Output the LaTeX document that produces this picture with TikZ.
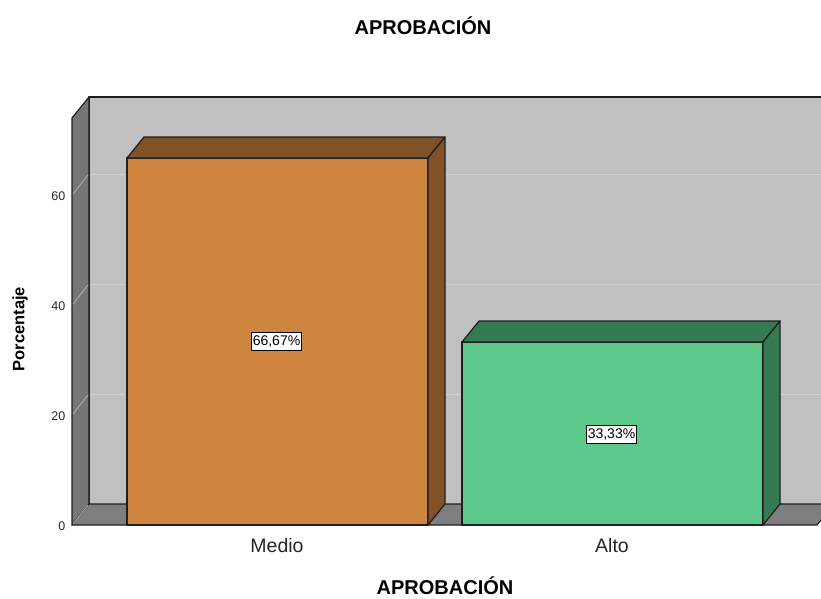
\documentclass[tikz,border=0pt]{standalone}
\usepackage{fontspec}
\setmainfont{Liberation Sans}
\definecolor{wallback}{HTML}{C0C0C0}
\definecolor{wallside}{HTML}{767676}
\definecolor{floorc}{HTML}{7E7E7E}
\definecolor{gridc}{HTML}{D0D0D0}
\definecolor{sidegrid}{HTML}{A8A8A8}
\definecolor{medfront}{HTML}{CD853F}
\definecolor{meddark}{HTML}{7F5228}
\definecolor{altfront}{HTML}{5CC98A}
\definecolor{altdark}{HTML}{367A53}
\definecolor{edgec}{HTML}{1E1E1E}
\tikzset{
  edge/.style={draw=edgec, line width=1.2pt, line join=round},
  gridline/.style={draw=gridc, line width=1pt},
  sgrid/.style={draw=sidegrid, line width=1pt},
  ticklab/.style={anchor=east, inner sep=0pt, font=\fontsize{12.5}{14}\selectfont, text=black!85},
  catlab/.style={inner sep=0pt, font=\fontsize{19.5}{22}\selectfont, text=black!85},
  titlelab/.style={inner sep=0pt, font=\bfseries\fontsize{20}{22}\selectfont},
  vallab/.style={draw=black, fill=white, line width=0.8pt, inner xsep=1.5pt, inner ysep=3pt, font=\fontsize{14}{15}\selectfont}
}
\begin{document}
\begin{tikzpicture}[x=1pt,y=-1pt]
\useasboundingbox (0,0) rectangle (821,598);
\begin{scope}
\clip (0,0) rectangle (821,598);
% back wall
\fill[wallback] (89,97) rectangle (830,504);
% back gridlines
\foreach \v in {20,40,60} {
  \draw[gridline] (89,{525-5.5*\v-21}) -- (830,{525-5.5*\v-21});
}
\draw[edge] (830,97) -- (89,97) -- (89,504);
% side wall
\filldraw[fill=wallside, edge] (72,118) -- (89,97) -- (89,504) -- (72,525) -- cycle;
\foreach \v in {20,40,60} {
  \draw[sgrid] (73,{525-5.5*\v-1}) -- (88,{525-5.5*\v-20});
}
% floor
\filldraw[fill=floorc, edge] (72,525) -- (89,504) -- (834,504) -- (817,525) -- cycle;
\draw[sgrid] (73,524) -- (88,505);
\end{scope}
% bar Medio
\filldraw[fill=medfront, edge] (127,158) rectangle (428,525);
\filldraw[fill=meddark, edge] (127,158) -- (144,137) -- (445,137) -- (428,158) -- cycle;
\filldraw[fill=meddark, edge] (428,158) -- (445,137) -- (445,504) -- (428,525) -- cycle;
% bar Alto
\filldraw[fill=altfront, edge] (462,342) rectangle (763,525);
\filldraw[fill=altdark, edge] (462,342) -- (479,321) -- (780,321) -- (763,342) -- cycle;
\filldraw[fill=altdark, edge] (763,342) -- (780,321) -- (780,504) -- (763,525) -- cycle;
% value labels
\node[vallab] (vmed) at (276.5,341.5) {66,67\%};
\node[vallab] (valt) at (611.5,434.5) {33,33\%};
% tick labels
\node[ticklab] (t0) at (65.5,526) {0};
\node[ticklab] (t20) at (65.5,416) {20};
\node[ticklab] (t40) at (65.5,306) {40};
\node[ticklab] (t60) at (65.5,196) {60};
% category labels
\node[catlab] (cmed) at (277,546) {Medio};
\node[catlab] (calt) at (612,546) {Alto};
% titles
\node[titlelab] (title) at (423,26) {APROBACIÓN};
\node[titlelab] (xtitle) at (445,586) {APROBACIÓN};
\node[inner sep=0pt, rotate=90, font=\bfseries\fontsize{16.5}{18}\selectfont] (ytitle) at (20,329) {Porcentaje};
\end{tikzpicture}
\end{document}
